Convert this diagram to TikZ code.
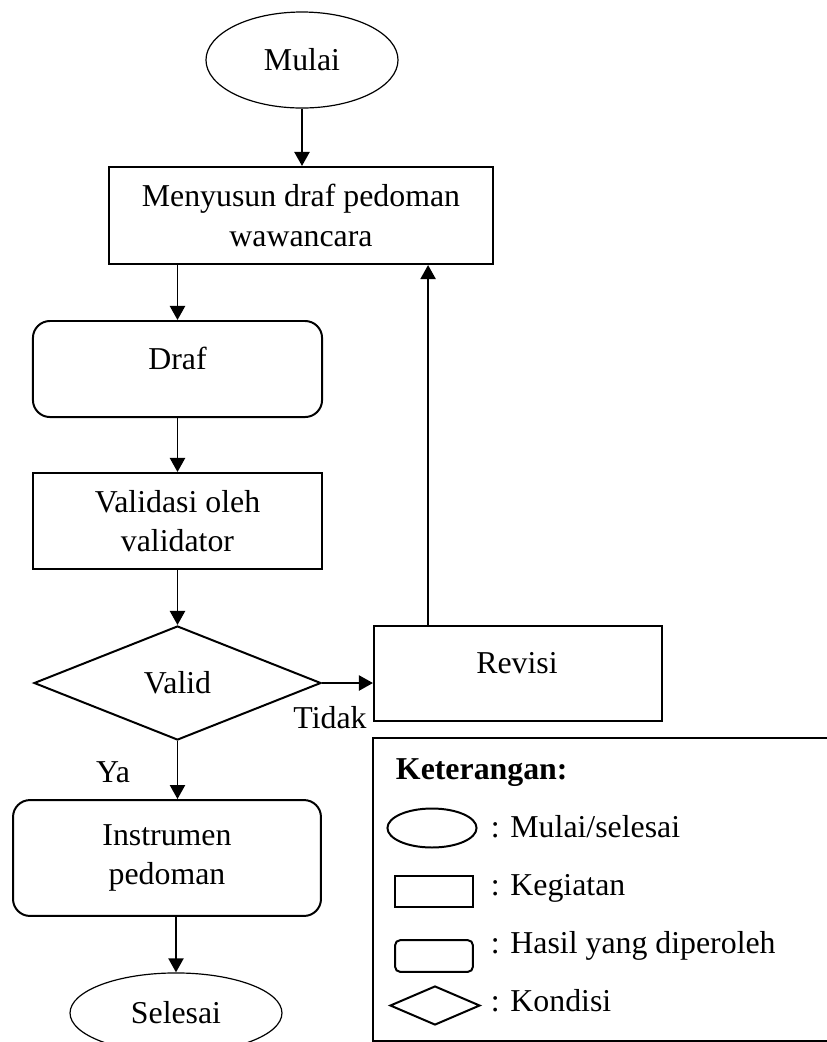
\documentclass[tikz,border=0pt]{standalone}
\usepackage{fontspec}
\setmainfont{Liberation Serif}
\usetikzlibrary{calc, arrows.meta, positioning, shapes.geometric}

\begin{document}
\begin{tikzpicture}[x=0.377pt, y=-0.377pt,
    font=\fontsize{12}{15}\selectfont,
    line width=0.75pt,
    terminal/.style={ellipse, draw, line width=0.45pt, inner sep=0pt},
    kegiatan/.style={rectangle, draw, inner sep=0pt, align=center},
    hasil/.style={rectangle, draw, rounded corners=6.4pt, inner sep=0pt, align=center},
    kondisi/.style={diamond, draw, inner sep=0pt},
    ket/.style={anchor=base west, inner sep=0pt},
    arah/.style={-{Triangle[length=5.3pt, width=5.7pt]}}]
                  \path[use as bounding box, clip] (0,0) rectangle (827,1042);
                  % alur utama
                  \node[terminal, minimum width=72.4pt, minimum height=36.2pt] (mulai) at (302,60) {Mulai};
                  \node[kegiatan, minimum width=144.8pt, minimum height=36.6pt] (susun) at (301,215.5) {Menyusun draf pedoman\\wawancara};
                  \node[hasil, minimum width=109pt, minimum height=36.2pt] (draf) at (177.5,369) {};
                  \node (draftxt) at ($(draf.center)+(0,-11)$) {Draf};
                  \node[kegiatan, minimum width=109pt, minimum height=36.2pt] (validasi) at (177.5,521) {Validasi oleh\\validator};
                  \node[kondisi, minimum width=108.2pt, minimum height=43pt] (valid) at (177.5,683) {Valid};
                  \node[kegiatan, minimum width=108.6pt, minimum height=35.8pt] (revisi) at (518,673.5) {};
                  \node (revisitxt) at ($(revisi.center)+(-1,-10.5)$) {Revisi};
                  \node[hasil, minimum width=116.1pt, minimum height=43.7pt] (instrumen) at (167,858) {Instrumen\\pedoman};
                  \node[terminal, minimum width=79.9pt, minimum height=30.2pt] (selesai) at (176,1013) {Selesai};
                  \draw[arah] (mulai.south) -- (mulai.south |- susun.north);
                  \draw[arah] (draf.north |- susun.south) -- (draf.north);
                  \draw[arah] (draf.south) -- (validasi.north);
                  \draw[arah] (validasi.south) -- (valid.north);
                  \draw[arah] (valid.east) -- (valid.east -| revisi.west);
                  \coordinate (balik) at ($(revisi.north west)!0.19!(revisi.north east)$);
                  \draw[arah] (balik) -- (balik |- susun.south);
                  \draw[arah] (valid.south) -- (valid.south |- instrumen.north);
                  \draw[arah] (selesai.north |- instrumen.south) -- (selesai.north);
                  \node (tidak) at (330,718) {Tidak};
                  \node (ya) at (113,772) {Ya};
                  % keterangan
                  \draw (827,738) -- (373,738) -- (373,1041) -- (827,1041);
                  \node[ket, font=\fontsize{12}{15}\selectfont\bfseries] (judul) at (395,779) {Keterangan:};
                  \node[terminal, line width=0.75pt, minimum width=33.6pt, minimum height=14.7pt] (ketmulai) at (432,828) {};
                  \node[ket] (ketmulaitxt) at (490,837) {: Mulai/selesai};
                  \node[kegiatan, minimum width=29.4pt, minimum height=11.7pt] (ketkegiatan) at (434,891.5) {};
                  \node[ket] (ketkegiatantxt) at (490,895) {: Kegiatan};
                  \node[hasil, rounded corners=2pt, minimum width=29.4pt, minimum height=12pt] (kethasil) at (434,956) {};
                  \node[ket] (kethasiltxt) at (490,953) {: Hasil yang diperoleh};
                  \node[kondisi, minimum width=33.9pt, minimum height=14.7pt] (ketkondisi) at (435,1005.5) {};
                  \node[ket] (ketkondisitxt) at (490,1011) {: Kondisi};
               \end{tikzpicture}
\end{document}
